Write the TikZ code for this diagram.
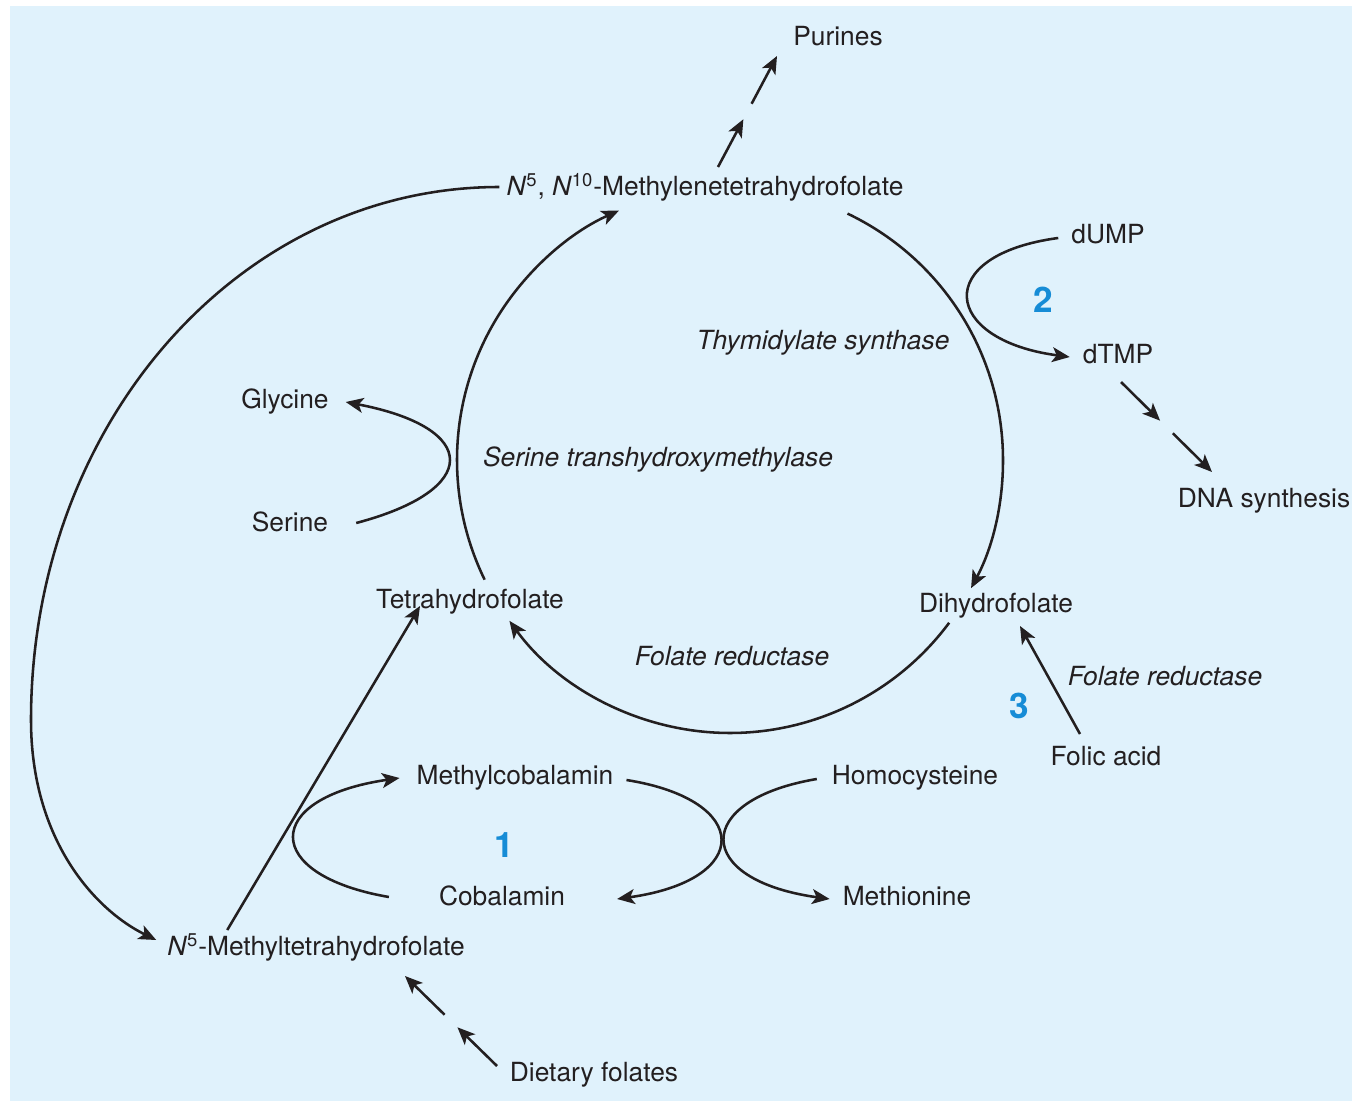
\documentclass[tikz,border=0pt]{standalone}
\usepackage{fontspec}
\setmainfont{TeX Gyre Heros}
\usetikzlibrary{arrows.meta,calc}

\definecolor{panel}{RGB}{224,242,252}
\definecolor{ink}{RGB}{35,31,32}
\definecolor{stepblue}{RGB}{22,140,214}

% arrow broken in two pieces
\newcommand{\splitarrow}[2]{%
  \draw[->] (#1) -- ($(#1)!0.43!(#2)$);
  \draw[->] ($(#1)!0.57!(#2)$) -- (#2);}

\begin{document}
\begin{tikzpicture}[x=0.02cm,y=-0.02cm,ink,line width=1.45pt,
  >={Stealth[length=10pt,width=8.5pt,inset=2.5pt]},
  lbl/.style={font=\fontsize{15}{18}\selectfont,text height=1.15em,text depth=0.2em},
  enz/.style={font=\fontsize{15}{18}\selectfont\itshape,text height=1.15em,text depth=0.2em},
  num/.style={font=\fontsize{20}{24}\selectfont\bfseries,text=stepblue}]

% Panel
\useasboundingbox (0,0) rectangle (1352,1101);
\fill[panel] (10,6) rectangle (1352,1101);

% Compounds
\node[lbl] (pur) at (838,37) {Purines};
\node[lbl] (mnthf) at (705,187) {\textit{N}\textsuperscript{5}, \textit{N}\textsuperscript{10}-Methylenetetrahydrofolate};
\node[lbl] (gly) at (285,400) {Glycine};
\node[lbl] (ser) at (290,523) {Serine};
\node[lbl] (thf) at (470,600) {Tetrahydrofolate};
\node[lbl] (dhf) at (996,604) {Dihydrofolate};
\node[lbl] (dump) at (1108,235) {dUMP};
\node[lbl] (dtmp) at (1118,355) {dTMP};
\node[lbl] (dna) at (1264,499) {DNA synthesis};
\node[lbl] (fol) at (1106,757) {Folic acid};
\node[lbl] (mcb) at (515,776) {Methylcobalamin};
\node[lbl] (hcy) at (915,776) {Homocysteine};
\node[lbl] (cob) at (502,897) {Cobalamin};
\node[lbl] (met) at (907,897) {Methionine};
\node[lbl] (mthf) at (316,947) {\textit{N}\textsuperscript{5}-Methyltetrahydrofolate};
\node[lbl] (diet) at (594,1073) {Dietary folates};

% Enzymes
\node[enz] (ts) at (823,341) {Thymidylate synthase};
\node[enz] (sht) at (658,458) {Serine transhydroxymethylase};
\node[enz] (fr1) at (732,657) {Folate reductase};
\node[enz] (fr2) at (1165,677) {Folate reductase};

% Steps
\node[num] (n1) at (504,845) {1};
\node[num] (n2) at (1043,300) {2};
\node[num] (n3) at (1019,706) {3};

% Main cycle
\coordinate (ctr) at (730,460);
\draw[->] ([shift={(154:273)}]ctr) arc[start angle=154,end angle=246,radius=273];
\draw[->] ([shift={(295.5:273)}]ctr) arc[start angle=295.5,end angle=388,radius=273];
\draw[->] ([shift={(36.6:273)}]ctr) arc[start angle=36.6,end angle=143.9,radius=273];

% Side reactions
\draw[->] ([shift={(21,0)}]ser.east) .. controls +(125,-33) and +(135,26) .. ([shift={(10,2)}]gly.east);
\draw[->] ([shift={(-6,3)}]dump.west) .. controls +(-127,17) and +(-128,-17) .. ([shift={(-6,2)}]dtmp.west);
\draw[->] ([shift={(-43,0)}]cob.west) .. controls +(-128,-22) and +(-138,20) .. ([shift={(-10,2)}]mcb.west);
\draw[->] ([shift={(6,4)}]mcb.east) .. controls +(126,20) and +(136,-19) .. ([shift={(45,2)}]cob.east);
\draw[->] ([shift={(-8,3)}]hcy.west) .. controls +(-125,21) and +(-137,-19) .. ([shift={(-6,2)}]met.west);
\draw[->] ([shift={(67,2)}]mthf.north west) -- ([shift={(-50,-13)}]thf.south);
\draw[->] ([shift={(-26,-4)}]fol.north) -- ([shift={(24,3)}]dhf.south);

% Long way round
\coordinate (lft) at (31,720);
\draw[->] (mnthf.west) .. controls (238,187) and (31,425) .. (lft)
  .. controls (31,840) and (95,910) .. ([shift={(-4,-7)}]mthf.west);

% Broken arrows
\coordinate (pu1) at (718,167);
\coordinate (pu2) at (777,56);
\coordinate (dn1) at (1121,382);
\coordinate (dn2) at (1212,472);
\coordinate (df1) at (497,1066);
\coordinate (df2) at (405,976);
\splitarrow{pu1}{pu2}
\splitarrow{dn1}{dn2}
\splitarrow{df1}{df2}

\end{tikzpicture}
\end{document}
